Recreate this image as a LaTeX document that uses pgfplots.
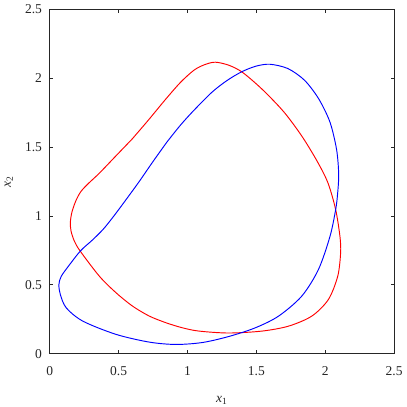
\documentclass[border=0pt]{standalone}
\usepackage{fontspec}
\setmainfont{Liberation Serif}
\usepackage{pgfplots}
\pgfplotsset{compat=1.18}
\definecolor{axgray}{RGB}{38,38,38}

\begin{document}
\begin{tikzpicture}
\begin{axis}[
    width=255pt, height=255pt, scale only axis,
    xmin=0, xmax=2.5, ymin=0, ymax=2.5,
    xtick={0,0.5,1,1.5,2,2.5},
    ytick={0,0.5,1,1.5,2,2.5},
    tick align=inside,
    major tick length=2.5pt,
    axis line style={axgray, line width=0.5pt},
    tick style={axgray, line width=0.5pt},
    /pgf/number format/assume math mode=true,
    ticklabel style={font=\fontsize{10}{12}\selectfont, text=axgray},
    xticklabel style={yshift=-5.8pt},
    yticklabel style={xshift=-2.2pt},
    xlabel={\textit{x}\textsubscript{1}},
    ylabel={\textit{x}\textsubscript{2}},
    xlabel style={at={([yshift=-35.9pt]axis description cs:0.5,0)}, anchor=base, inner sep=0pt, font=\fontsize{10}{12}\selectfont, text=axgray},
    ylabel style={at={([xshift=-28.7pt]axis description cs:0,0.5)}, anchor=base, inner sep=0pt, font=\fontsize{10}{12}\selectfont, text=axgray},
    clip=false,
]
% red closed curve
\addplot[red, line width=0.7pt, smooth, line join=round] coordinates {
    (0.60,1.56) (0.48,1.435) (0.36,1.31) (0.275,1.23) (0.225,1.175)
    (0.19,1.11) (0.162,1.03) (0.150,0.955) (0.155,0.89) (0.18,0.815)
    (0.222,0.744) (0.361,0.562) (0.482,0.442) (0.602,0.345) (0.723,0.273)
    (0.843,0.225) (0.963,0.188) (1.084,0.164) (1.30,0.150) (1.541,0.164)
    (1.734,0.200) (1.903,0.273) (2.023,0.393) (2.091,0.562) (2.112,0.732)
    (2.107,0.852) (2.076,1.046) (2.02,1.24) (1.94,1.40) (1.83,1.58)
    (1.70,1.755) (1.544,1.918) (1.40,2.042) (1.303,2.093) (1.204,2.116)
    (1.13,2.10) (1.05,2.06) (0.95,1.97) (0.84,1.845) (0.72,1.70) (0.60,1.56)
};
% blue closed curve
\addplot[blue, line width=0.7pt, smooth, line join=round] coordinates {
    (0.85,1.535) (0.95,1.66) (1.05,1.77) (1.18,1.90) (1.29,1.985)
    (1.397,2.048) (1.50,2.088) (1.60,2.101) (1.729,2.07) (1.85,1.985)
    (1.953,1.85) (2.035,1.68) (2.083,1.48) (2.098,1.30) (2.09,1.16)
    (2.076,1.046) (2.035,0.852) (1.951,0.611) (1.830,0.418) (1.662,0.273)
    (1.493,0.188) (1.301,0.125) (1.108,0.081) (0.915,0.067) (0.723,0.084)
    (0.482,0.140) (0.241,0.236) (0.120,0.333) (0.077,0.430) (0.067,0.502)
    (0.084,0.562) (0.145,0.647) (0.225,0.748) (0.31,0.825) (0.39,0.905)
    (0.47,1.005) (0.554,1.118) (0.65,1.25) (0.75,1.395) (0.85,1.535)
};
% page frame matching the reference margins
\path ([xshift=-36.8pt,yshift=-38.8pt]rel axis cs:0,0) rectangle ([xshift=8.1pt,yshift=6.9pt]rel axis cs:1,1);
\end{axis}
\end{tikzpicture}
\end{document}
